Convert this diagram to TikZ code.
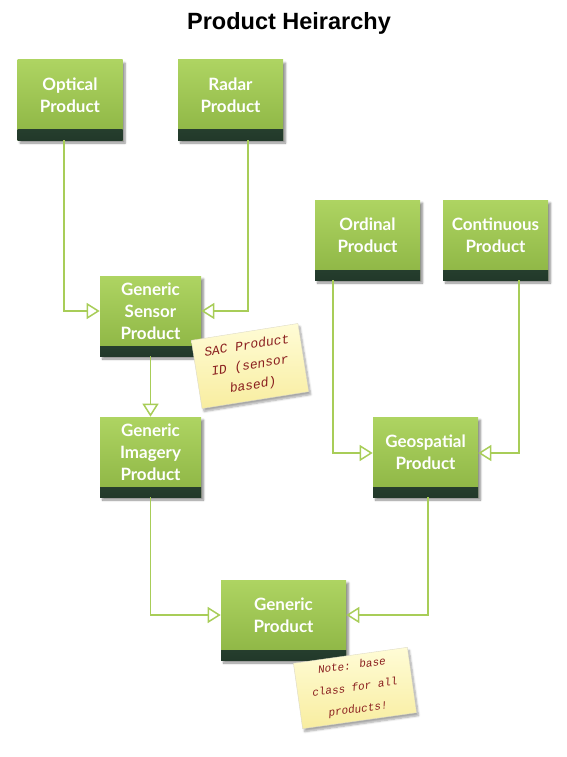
\documentclass[tikz,border=0pt]{standalone}
\usepackage{fontspec}
\setmainfont{Lato}
\newfontfamily\titlefont{Liberation Sans}
\newfontfamily\notefont{Liberation Mono}
\usetikzlibrary{arrows.meta,shadows.blur,calc}

\definecolor{boxtop}{HTML}{AED462}
\definecolor{boxbot}{HTML}{8CB443}
\definecolor{bandtop}{HTML}{3E6045}
\definecolor{bandbot}{HTML}{22392A}
\definecolor{linkgreen}{HTML}{A8CD58}
\definecolor{notetop}{HTML}{FFFCD6}
\definecolor{notebot}{HTML}{F8EDA0}
\definecolor{noteink}{HTML}{8A1E1E}

\begin{document}
\begin{tikzpicture}[x=1pt, y=-1pt, semithick]
	\tikzstyle{product}=[rectangle, minimum width=105pt, minimum height=80pt,
		top color=boxtop, bottom color=boxbot, text=white, align=center,
		font=\bfseries\fontsize{17}{22}\selectfont, text depth=10pt,
		blur shadow={shadow xshift=2.5pt, shadow yshift=-3pt, shadow opacity=45, shadow blur steps=6},
		path picture={\shade[top color=bandtop, bottom color=bandbot]
			(path picture bounding box.south west) rectangle ([yshift=10pt]path picture bounding box.south east);}]
	\tikzstyle{isa}=[draw=linkgreen, line width=1.5pt, -{Triangle[open, length=13pt, width=16pt]}]
	\tikzstyle{elbow}=[isa, to path={|- (\tikztotarget)}]
	\tikzstyle{sticky}=[rectangle, draw=notebot!70!black!40, thin, top color=notetop, bottom color=notebot,
		text=noteink, align=center,
		blur shadow={shadow xshift=2pt, shadow yshift=-3pt, shadow opacity=35, shadow blur steps=6}]
	\useasboundingbox (0,0) rectangle (566,757);

	\node[font=\titlefont\bfseries\fontsize{23.5}{28}\selectfont] (title) at (289,23) {Product Heirarchy};

	\node[product]                       (optical)    at (70,100)    {Optical\\Product};
	\node[product]                       (radar)      at (230.5,100) {Radar\\Product};
	\node[product]                       (ordinal)    at (367.5,240) {Ordinal\\Product};
	\node[product]                       (continuous) at (495.5,240) {Continuous\\Product};
	\node[product, minimum width=101pt]  (sensor)     at (150.5,316) {Generic\\Sensor\\Product};
	\node[product, minimum width=101pt]  (imagery)    at (150.5,457) {Generic\\Imagery\\Product};
	\node[product]                       (geo)        at (425.5,457) {Geospatial\\Product};
	\node[product, minimum width=125pt]  (generic)    at (283.5,620) {Generic\\Product};

	\path
	([xshift=-6pt]optical.south)      edge[elbow] ([yshift=5pt]sensor.west)
	([xshift=17.5pt]radar.south)      edge[elbow] ([yshift=5pt]sensor.east)
	(sensor.south)                    edge[isa]   (imagery.north)
	([xshift=-34.5pt]ordinal.south)   edge[elbow] ([yshift=4pt]geo.west)
	([xshift=23.5pt]continuous.south) edge[elbow] ([yshift=4pt]geo.east)
	(imagery.south)                   edge[elbow] ([yshift=5pt]generic.west)
	([xshift=2.5pt]geo.south)         edge[elbow] ([yshift=5pt]generic.east);

	\node[sticky, rotate=9, minimum width=108pt, minimum height=69pt,
		font=\notefont\itshape\fontsize{13}{20}\selectfont] (sacnote) at (250,366) {SAC Product\\ID (sensor\\based)};
	\node[sticky, rotate=8, minimum width=115pt, minimum height=66pt,
		font=\notefont\itshape\fontsize{11}{22}\selectfont] (basenote) at (355,688) {Note: base\\class for all\\products!};
\end{tikzpicture}
\end{document}
